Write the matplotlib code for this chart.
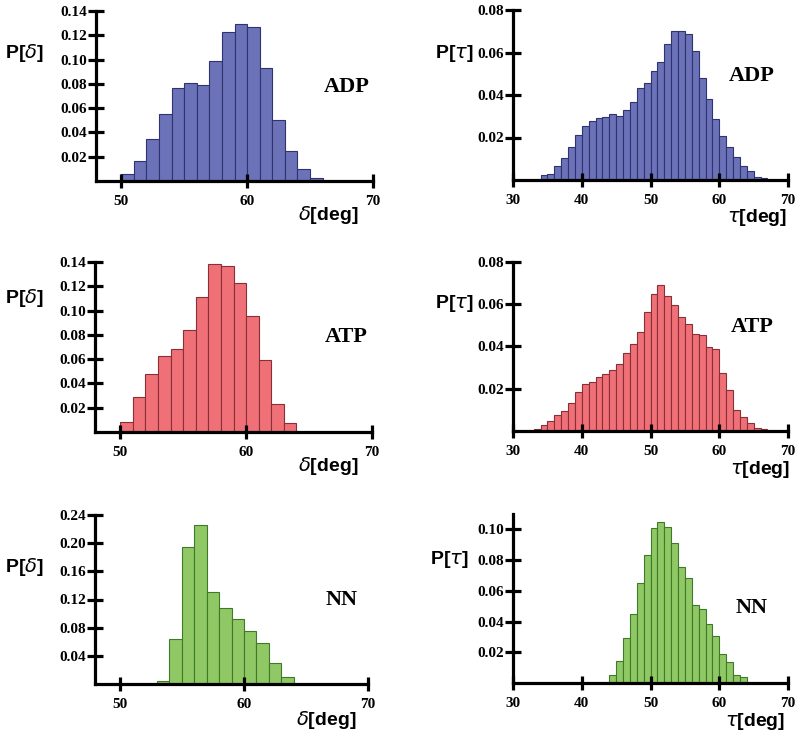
import matplotlib
matplotlib.use("Agg")
import matplotlib.pyplot as plt
import numpy as np

# histogram values, 1 degree bins, first bin start given separately
adp_delta_start = 50
adp_delta = [0.0055, 0.0167, 0.0348, 0.0553, 0.0767, 0.0805, 0.079, 0.0986,
             0.1227, 0.129, 0.127, 0.0934, 0.0504, 0.025, 0.0099, 0.0025]
adp_tau_start = 34
adp_tau = [0.0022, 0.003, 0.0067, 0.0105, 0.0157, 0.0213, 0.0254, 0.028,
           0.029, 0.0295, 0.031, 0.0303, 0.033, 0.0367, 0.0435, 0.0457,
           0.0512, 0.0554, 0.064, 0.0702, 0.070, 0.0688, 0.0608, 0.048,
           0.0382, 0.0288, 0.0206, 0.0155, 0.011, 0.0066, 0.0041, 0.0016,
           0.0008]
atp_delta_start = 50
atp_delta = [0.0082, 0.0288, 0.048, 0.0622, 0.0685, 0.084, 0.111, 0.1384,
             0.137, 0.123, 0.0956, 0.059, 0.0233, 0.0074]
atp_tau_start = 33
atp_tau = [0.0011, 0.0027, 0.0049, 0.0074, 0.0096, 0.0132, 0.0183, 0.0222,
           0.0233, 0.0257, 0.0268, 0.0288, 0.0317, 0.037, 0.041, 0.0468,
           0.0565, 0.065, 0.0691, 0.0638, 0.0597, 0.0542, 0.0507, 0.046,
           0.0454, 0.0398, 0.039, 0.0274, 0.0192, 0.0101, 0.0066, 0.0036,
           0.0016, 0.0008]
nn_delta_start = 53
nn_delta = [0.0038, 0.064, 0.194, 0.2256, 0.131, 0.108, 0.093, 0.075,
            0.058, 0.030, 0.0104]
nn_tau_start = 44
nn_tau = [0.0054, 0.0145, 0.0294, 0.045, 0.065, 0.083, 0.1007, 0.1048,
          0.1016, 0.0908, 0.0752, 0.0683, 0.0506, 0.048, 0.0382, 0.0309,
          0.019, 0.0134, 0.0054, 0.0039]

names = ["ADP", "ATP", "NN"]
face = ["#6b72b8", "#f07078", "#8fc865"]
edge = ["#2f3370", "#8a2f36", "#3f7a28"]

W, H = 800, 737
fig = plt.figure(figsize=(W / 100, H / 100), dpi=100)
plt.rcParams['mathtext.fontset'] = 'dejavusans'


def rect(l, r, t, b):
    return [l / W, 1 - b / H, (r - l) / W, (b - t) / H]


panels = [
    # data, start, row, kind, axes rect(px), ylim top, yticks, group label pos, P label pos, xlabel pos
    (adp_delta, adp_delta_start, 0, "d", (96, 373, 11, 181), 0.14, np.arange(0.02, 0.141, 0.02), (347, 87), (5, 53), (328, 215)),
    (adp_tau, adp_tau_start, 0, "t", (513, 788, 10, 180), 0.08, np.arange(0.02, 0.081, 0.02), (757, 218), (435, 53), (757, 218)),
    (atp_delta, atp_delta_start, 1, "d", (95, 372, 262, 432), 0.14, np.arange(0.02, 0.141, 0.02), (346, 337), (5, 298), (328, 466)),
    (atp_tau, atp_tau_start, 1, "t", (513, 788, 262, 431), 0.08, np.arange(0.02, 0.081, 0.02), (752, 327), (435, 303), (760, 469)),
    (nn_delta, nn_delta_start, 2, "d", (95, 368, 515, 684), 0.24, np.arange(0.04, 0.241, 0.04), (342, 600), (5, 567), (326, 720)),
    (nn_tau, nn_tau_start, 2, "t", (513, 788, 514, 683), 0.11, np.arange(0.02, 0.101, 0.02), (752, 608), (430, 560), (755, 721)),
]
# group label position for top-right panel
panels[1] = panels[1][:7] + ((752, 76),) + panels[1][8:]

serif = "Liberation Serif"
sans = "Liberation Sans"

for vals, start, row, kind, r, ytop, yt, gpos, ppos, xlpos in panels:
    ax = fig.add_axes(rect(*r))
    edges = start + np.arange(len(vals))
    ax.bar(edges, vals, width=1, align='edge', color=face[row],
           edgecolor=edge[row], linewidth=0.8)
    if kind == "d":
        ax.set_xlim(48, 70)
        ax.set_xticks([50, 60, 70])
        sym = r"$\delta$"
    else:
        ax.set_xlim(30, 70)
        ax.set_xticks([30, 40, 50, 60, 70])
        sym = r"$\tau$"
    ax.set_ylim(0, ytop)
    ax.set_yticks(yt)
    ax.set_yticklabels(["%.2f" % v for v in yt])
    for s in ["top", "right"]:
        ax.spines[s].set_visible(False)
    for s in ["left", "bottom"]:
        ax.spines[s].set_linewidth(2.3)
        ax.spines[s].set_capstyle("projecting")
    ax.tick_params(axis='y', direction='inout', length=11, width=2.3, pad=1)
    ax.tick_params(axis='x', direction='inout', length=10, width=2.3, pad=5)
    for lab in ax.get_xticklabels() + ax.get_yticklabels():
        lab.set_fontfamily(serif)
        lab.set_fontweight("bold")
        lab.set_fontsize(11)
    ax.patch.set_alpha(0)

    fig.text(gpos[0] / W, 1 - gpos[1] / H, names[row], family=serif,
             weight="bold", fontsize=16, ha="center", va="center")
    fig.text(ppos[0] / W, 1 - ppos[1] / H, "P[" + sym + "]", family=sans,
             weight="bold", fontsize=14, ha="left", va="center")
    fig.text(xlpos[0] / W, 1 - xlpos[1] / H, sym + "[deg]", family=sans,
             weight="bold", fontsize=14, ha="center", va="center")

fig.savefig("out.png", dpi=100)
